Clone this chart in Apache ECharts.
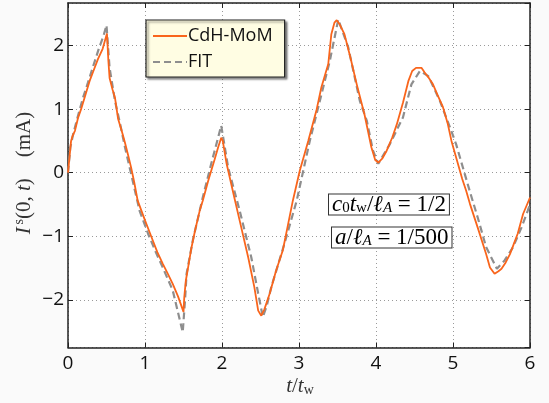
<!DOCTYPE html>
<html><head><meta charset="utf-8">
<script src="https://cdn.jsdelivr.net/npm/echarts@6/dist/echarts.min.js"></script>
<style>html,body{margin:0;padding:0;background:#fafafa}#c{width:549px;height:403px}</style>
</head><body><div id="c"></div>
<script>
const seriesNames = ['CdH-MoM', 'FIT'];
const xTicks = [0, 1, 2, 3, 4, 5, 6];
const momData = [[0,0],[0.04,0.5],[0.06,0.58],[0.09,0.66],[0.13,0.86],[0.17,1.0],[0.22,1.2],[0.28,1.44],[0.33,1.6],[0.39,1.79],[0.45,1.95],[0.506,2.19],[0.525,1.75],[0.54,1.49],[0.58,1.3],[0.61,1.18],[0.65,0.85],[0.70,0.65],[0.74,0.47],[0.78,0.28],[0.82,0.08],[0.86,-0.15],[0.905,-0.44],[1.0,-0.75],[1.08,-1.0],[1.16,-1.25],[1.23,-1.43],[1.30,-1.6],[1.36,-1.75],[1.43,-1.95],[1.50,-2.19],[1.51,-1.96],[1.53,-1.7],[1.56,-1.49],[1.60,-1.2],[1.65,-0.91],[1.71,-0.6],[1.75,-0.44],[1.82,-0.13],[1.905,0.21],[1.95,0.4],[1.99,0.55],[2.01,0.5],[2.06,0.14],[2.16,-0.39],[2.25,-0.86],[2.34,-1.33],[2.42,-1.8],[2.47,-2.17],[2.51,-2.25],[2.55,-2.15],[2.62,-1.9],[2.70,-1.55],[2.79,-1.22],[2.86,-0.8],[2.92,-0.44],[3.01,0.03],[3.12,0.5],[3.23,1.0],[3.29,1.34],[3.38,1.71],[3.42,2.18],[3.46,2.36],[3.49,2.40],[3.53,2.33],[3.59,2.18],[3.67,1.8],[3.75,1.39],[3.85,0.92],[3.94,0.40],[3.99,0.2],[4.03,0.16],[4.08,0.22],[4.14,0.35],[4.21,0.55],[4.27,0.76],[4.35,1.1],[4.42,1.44],[4.47,1.6],[4.52,1.65],[4.59,1.65],[4.63,1.58],[4.68,1.5],[4.74,1.39],[4.80,1.22],[4.87,1.03],[4.93,0.78],[4.98,0.5],[5.05,0.2],[5.12,-0.1],[5.17,-0.28],[5.22,-0.49],[5.32,-0.86],[5.43,-1.28],[5.48,-1.49],[5.54,-1.59],[5.59,-1.55],[5.63,-1.51],[5.68,-1.42],[5.74,-1.28],[5.79,-1.12],[5.84,-0.96],[5.91,-0.65],[6.0,-0.39]];
const fitData = [[0,0],[0.03,0.4],[0.07,0.62],[0.12,0.85],[0.195,1.18],[0.26,1.42],[0.32,1.65],[0.40,1.95],[0.46,2.15],[0.50,2.32],[0.54,1.65],[0.61,1.13],[0.68,0.75],[0.74,0.40],[0.82,-0.02],[0.93,-0.6],[1.04,-0.96],[1.14,-1.25],[1.23,-1.49],[1.36,-1.85],[1.49,-2.51],[1.52,-2.0],[1.54,-1.59],[1.62,-1.07],[1.75,-0.39],[1.86,0.14],[1.99,0.74],[2.08,0.08],[2.23,-0.6],[2.38,-1.33],[2.47,-1.9],[2.53,-2.27],[2.58,-2.1],[2.64,-1.8],[2.81,-1.12],[2.97,-0.44],[3.14,0.5],[3.25,1.03],[3.40,1.76],[3.51,2.41],[3.64,1.97],[3.79,1.13],[3.88,0.82],[3.96,0.35],[4.03,0.14],[4.18,0.45],[4.35,0.87],[4.46,1.39],[4.57,1.6],[4.68,1.52],[4.83,1.13],[4.98,0.65],[5.04,0.45],[5.22,-0.3],[5.32,-0.7],[5.43,-1.17],[5.57,-1.51],[5.67,-1.38],[5.78,-1.17],[5.89,-0.86],[5.97,-0.6],[6.0,-0.5]];
const yRange = [-2.75, 2.67];
const xRange = [0, 6];

const chart = echarts.init(document.getElementById('c'), null, {renderer: 'canvas'});
const axisCol = '#222';
const gridLine = {show: true, lineStyle: {color: '#9a9a9a', type: [1, 3], width: 1}};
const minus = v => String(v).replace('-', '\u2212');
const serif = 'Liberation Serif';
const sans = 'Open Sans';
function common(extra) {
  return Object.assign({
    type: 'value',
    axisLine: {show: true, onZero: false, lineStyle: {color: axisCol, width: 1.5}},
    axisTick: {show: true, inside: true, length: 5, lineStyle: {color: axisCol, width: 1}},
  }, extra);
}
const mathRich = {
  i: {fontFamily: serif, fontStyle: 'italic', fontSize: 23, lineHeight: 20},
  n: {fontFamily: serif, fontSize: 23, lineHeight: 20},
  s: {fontFamily: serif, fontSize: 15, lineHeight: 20, padding: [7, 0, 0, 0]},
  si: {fontFamily: serif, fontStyle: 'italic', fontSize: 15, lineHeight: 20, padding: [7, 0, 0, 0]}
};
chart.setOption({
  animation: false,
  backgroundColor: '#fafafa',
  grid: {left: 68, right: 19, top: 3, bottom: 55.5, show: true, backgroundColor: '#ffffff', borderWidth: 0},
  xAxis: [
    common({min: xRange[0], max: xRange[1], interval: 1, position: 'bottom', splitLine: gridLine,
      axisLabel: {color: '#111', fontFamily: sans, fontSize: 19, margin: 7, formatter: minus}}),
    common({min: xRange[0], max: xRange[1], interval: 1, position: 'top', splitLine: {show: false}, axisLabel: {show: false}})
  ],
  yAxis: [
    common({min: yRange[0], max: yRange[1], splitNumber: 5, position: 'left', splitLine: gridLine,
      axisLabel: {color: '#111', fontFamily: sans, fontSize: 19, margin: 4, showMinLabel: false, showMaxLabel: false, formatter: minus}}),
    common({min: yRange[0], max: yRange[1], splitNumber: 5, position: 'right', splitLine: {show: false}, axisLabel: {show: false}})
  ],
  legend: {
    data: seriesNames,
    orient: 'vertical', left: 146, top: 20,
    padding: [7, 12, 6, 6], itemGap: 8, itemWidth: 34, itemHeight: 18,
    backgroundColor: '#fffde3', borderColor: '#222', borderWidth: 1.2,
    shadowColor: 'rgba(0,0,0,0.45)', shadowBlur: 2, shadowOffsetX: 2, shadowOffsetY: 2,
    itemStyle: {opacity: 0},
    textStyle: {fontFamily: sans, fontSize: 18, color: '#111', padding: [0, 0, 0, -4]},
    selectedMode: false
  },
  series: [
    {name: seriesNames[1], type: 'line', data: fitData, symbol: 'none', z: 2,
      lineStyle: {color: '#8e8e8e', width: 2.2, type: [7, 4]}, itemStyle: {color: '#8e8e8e'}},
    {name: seriesNames[0], type: 'line', data: momData, symbol: 'none', z: 3,
      lineStyle: {color: '#f9651c', width: 1.8}, itemStyle: {color: '#f9651c'}}
  ],
  graphic: [
    {type: 'text', left: 328, top: 193, z: 10, style: {
      text: '{i|c}{s|0}{i|t}{s|w}{n|/}{i|ℓ}{si|A}{n| = 1/2}',
      backgroundColor: '#fff', borderColor: '#333', borderWidth: 1, padding: [0, 3, 0, 3],
      rich: mathRich}},
    {type: 'text', left: 331, top: 226, z: 10, style: {
      text: '{i|a}{n|/}{i|ℓ}{si|A}{n| = 1/500}',
      backgroundColor: '#fff', borderColor: '#333', borderWidth: 1, padding: [0, 3, 0, 3],
      rich: mathRich}},
    {type: 'text', x: 300, y: 386, z: 10, style: {
      text: '{i|t}{n|/}{i|t}{s|w}', align: 'center', verticalAlign: 'middle', fill: '#333',
      rich: {
        i: {fontFamily: serif, fontStyle: 'italic', fontSize: 21, fill: '#333'},
        n: {fontFamily: serif, fontSize: 21, fill: '#333'},
        s: {fontFamily: serif, fontSize: 14, padding: [8, 0, 0, 0], fill: '#333'}
      }}},
    {type: 'text', x: 24, y: 173, rotation: Math.PI / 2, z: 10, style: {
      text: '{i|I}{sp|\u2009s}{n|(0, }{i|t}{n|)    (mA)}', align: 'center', verticalAlign: 'middle',
      rich: {
        i: {fontFamily: serif, fontStyle: 'italic', fontSize: 21, fill: '#333'},
        n: {fontFamily: serif, fontSize: 21, fill: '#333'},
        sp: {fontFamily: serif, fontSize: 14, padding: [0, 0, 9, 0], fill: '#333'}
      }}}
  ]
});
</script></body></html>
